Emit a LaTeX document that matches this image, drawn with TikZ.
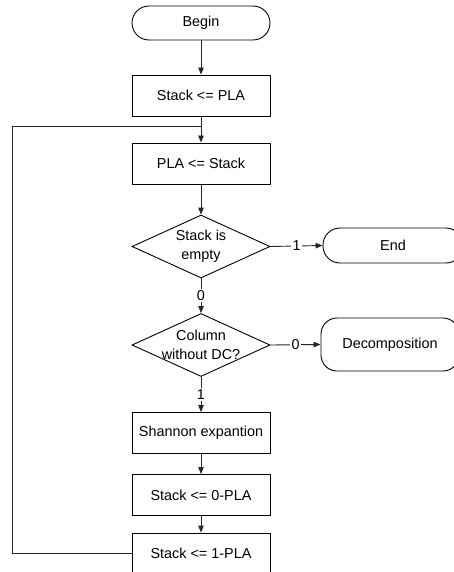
\documentclass[tikz,border=0pt]{standalone}
\usepackage{fontspec}
\setmainfont{Liberation Sans}
\usetikzlibrary{arrows.meta,shapes.geometric}
\begin{document}
\begin{tikzpicture}[x=1pt,y=-1pt,
  every node/.style={font=\fontsize{14.4}{19}\selectfont},
  line/.style={line width=0.9pt, draw=black!85},
  arr/.style={line, -{Triangle[length=7pt,width=5.5pt]}},
  procbox/.style={draw, line width=0.9pt, minimum width=138pt, minimum height=41pt, inner sep=0pt},
  termbox/.style={draw, line width=0.9pt, rounded corners=17pt, minimum width=138pt, minimum height=34pt, inner sep=0pt},
  decbox/.style={draw, line width=0.9pt, shape=diamond, minimum width=138pt, minimum height=63pt, inner sep=0pt},
  lbl/.style={fill=white, inner sep=1.5pt}
]
\useasboundingbox (0,0) rectangle (454,572);
\node[termbox] (begin) at (201,23) {Begin};
\node[procbox] (s1) at (201,95.5) {Stack <= PLA};
\node[procbox] (s2) at (201,163.5) {PLA <= Stack};
\node[decbox] (d1) at (201,246.5) {};
\node[align=center] (d1t) at (d1) {Stack is\\empty};
\node[termbox, minimum height=35pt, minimum width=140pt] (end) at (393,245.5) {End};
\node[decbox] (d2) at (201,345) {};
\node[align=center] (d2t) at (d2) {Column\\without DC?};
\node[termbox, rounded corners=16pt, minimum height=53pt] (dec) at (390,344.5) {Decomposition};
\node[procbox] (sh) at (201,433) {Shannon expantion};
\node[procbox] (s0) at (201,495) {Stack <= 0-PLA};
\node[procbox] (s1p) at (201,553.5) {Stack <= 1-PLA};
\coordinate (loopbot) at (12,553.5);
\coordinate (looptop) at (12,126);
\coordinate (join) at (201,126);

\draw[arr] (begin) -- (s1);
\draw[arr] (s1) -- (s2);
\draw[arr] (s2) -- (d1.north);
\draw[arr] (d1.east) -- node[lbl] {1} (end.west);
\draw[arr] (d1.south) -- node[lbl] {0} (d2.north);
\draw[arr] (d2.east) -- node[lbl] {0} (dec.west);
\draw[arr] (d2.south) -- node[lbl] {1} (sh.north);
\draw[arr] (sh) -- (s0);
\draw[arr] (s0) -- (s1p);
\draw[line] (s1p.west) -- (loopbot) -- (looptop) -- (join);
\end{tikzpicture}
\end{document}
